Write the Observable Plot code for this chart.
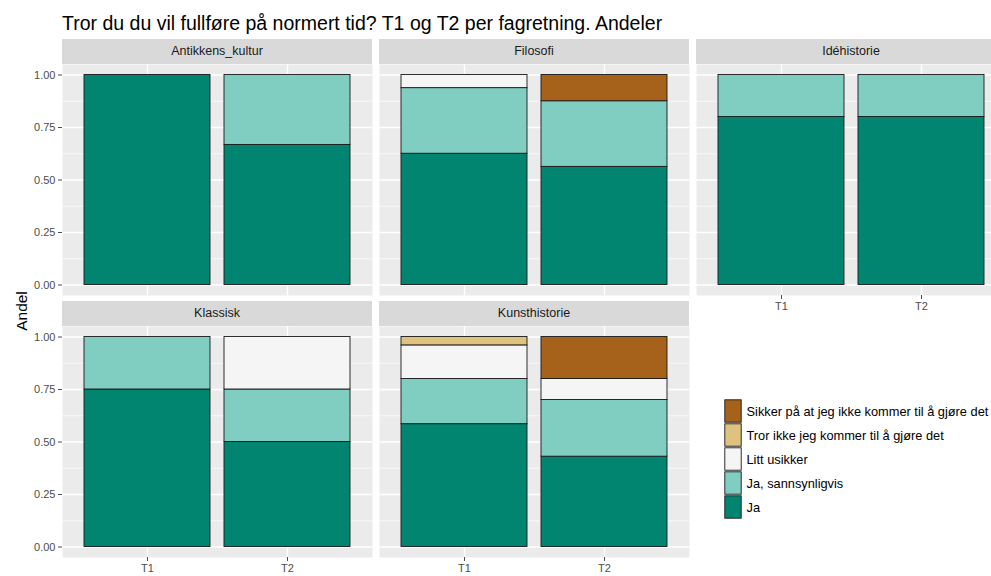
<!DOCTYPE html>
<html><head><meta charset="utf-8">
<script src="https://cdn.jsdelivr.net/npm/d3@7"></script>
<script src="https://cdn.jsdelivr.net/npm/@observablehq/plot@0.6"></script>
<style>
html,body{margin:0;padding:0;background:#fff;overflow:hidden;}
#chart{position:relative;width:991px;height:576px;overflow:hidden;font-family:"Liberation Sans",Arial,sans-serif;}
.abs{position:absolute;white-space:nowrap;}
.strip{background:#d9d9d9;color:#1a1a1a;font-size:12.5px;text-align:center;line-height:25px;height:25px;}
</style></head><body><div id="chart"></div>
<script>
// ---- data ----
const title = "Tror du du vil fullføre på normert tid? T1 og T2 per fagretning. Andeler";
const yTitle = "Andel";
const panels = ["Antikkens_kultur", "Filosofi", "Idéhistorie", "Klassisk", "Kunsthistorie"];
const times = ["T1", "T2"];
const cats = ["Ja", "Ja, sannsynligvis", "Litt usikker", "Tror ikke jeg kommer til å gjøre det", "Sikker på at jeg ikke kommer til å gjøre det"];
const catColors = ["#018571", "#80cdc1", "#f5f5f5", "#dfc27d", "#a6611a"];
// values per panel × time: [Ant T1, Ant T2, Fil T1, Fil T2, Idé T1, Idé T2, Kla T1, Kla T2, Kun T1, Kun T2]
const ja          = [1.0, 0.667, 0.625, 0.5625, 0.8, 0.8, 0.75, 0.5, 0.585, 0.43];
const jaSann      = [0.0, 0.333, 0.3125, 0.3125, 0.2, 0.2, 0.25, 0.25, 0.215, 0.27];
const littUsikker = [0.0, 0.0, 0.0625, 0.0, 0.0, 0.0, 0.0, 0.25, 0.16, 0.10];
const trorIkke    = [0.0, 0.0, 0.0, 0.0, 0.0, 0.0, 0.0, 0.0, 0.04, 0.0];
const sikker      = [0.0, 0.0, 0.0, 0.125, 0.0, 0.0, 0.0, 0.0, 0.0, 0.20];
const yTicks = [0, 0.25, 0.5, 0.75, 1];
const yMinor = [0.125, 0.375, 0.625, 0.875];

const series = [ja, jaSann, littUsikker, trorIkke, sikker];
const rows = [];
panels.forEach((p, pi) => times.forEach((t, ti) => cats.forEach((c, ci) => {
  const v = series[ci][pi * 2 + ti];
  if (v > 0) rows.push({panel: p, time: t, cat: c, value: v});
})));

// ---- layout ----
const chart = document.getElementById("chart");
const W = 310, H = 231, MB = 25, ML = 44;
const colX = [62, 379, 696], rowY = [64, 326];
const grid = [[0,0],[1,0],[2,0],[0,1],[1,1]];
const withXAxis = [false, false, true, true, true];
const font = '"Liberation Sans", Arial, sans-serif';

function addDiv(cls, text, css) {
  const d = document.createElement("div");
  d.className = cls; d.textContent = text;
  Object.assign(d.style, css);
  chart.appendChild(d);
  return d;
}

addDiv("abs", title, {left: "62px", top: "13px", fontSize: "19.5px", lineHeight: "20px", color: "#000"});
addDiv("abs", yTitle, {left: "22px", top: "311px", fontSize: "15.5px", lineHeight: "16px", color: "#000",
  transform: "translate(-50%,-50%) rotate(-90deg)"});

panels.forEach((p, i) => {
  const [c, r] = grid[i];
  const ml = c === 0 ? ML : 0;
  addDiv("abs strip", p, {left: colX[c] + "px", top: (rowY[r] - 25) + "px", width: W + "px"});
  const marks = [
    Plot.frame({fill: "#ebebeb", stroke: "none"}),
    Plot.ruleY(yMinor, {stroke: "#fff", strokeWidth: 0.7}),
    Plot.ruleY(yTicks, {stroke: "#fff", strokeWidth: 1.4}),
    Plot.ruleX(times, {x: d => d, stroke: "#fff", strokeWidth: 1.4}),
    Plot.barY(rows.filter(d => d.panel === p), {x: "time", y: "value", fill: "cat", stroke: "#1a1a1a", strokeWidth: 0.9})
  ];
  if (c === 0) marks.push(Plot.axisY(yTicks, {tickFormat: d3.format(".2f"), tickSize: 4, tickPadding: 3, label: null}));
  if (withXAxis[i]) marks.push(Plot.axisX({tickSize: 4, tickPadding: 3, label: null}));
  const svg = Plot.plot({
    width: W + ml, height: H + MB,
    marginTop: 0, marginRight: 0, marginBottom: MB, marginLeft: ml,
    x: {type: "band", domain: times, paddingInner: 0.1, paddingOuter: 0.15, axis: null},
    y: {domain: [-0.05, 1.05], axis: null},
    color: {domain: cats, range: catColors},
    style: {fontFamily: font, fontSize: "11px", color: "#4d4d4d", background: "transparent", overflow: "visible"},
    marks
  });
  svg.style.position = "absolute";
  svg.style.left = (colX[c] - ml) + "px";
  svg.style.top = rowY[r] + "px";
  chart.appendChild(svg);
});

// legend
const legendCats = cats.slice().reverse();
const leg = Plot.plot({
  width: 270, height: 122, margin: 0,
  x: {type: "band", domain: ["key"], range: [0, 22], axis: null},
  y: {type: "band", domain: legendCats, range: [0, 122], padding: 0, axis: null},
  color: {domain: cats, range: catColors},
  style: {fontFamily: font, fontSize: "12.8px", color: "#000", background: "transparent", overflow: "visible"},
  marks: [
    Plot.cell(legendCats, {x: () => "key", y: d => d, fill: d => d, stroke: "#1a1a1a", strokeWidth: 0.9, inset: 0.8}),
    Plot.text(legendCats, {x: () => "key", y: d => d, text: d => d, textAnchor: "start", dx: 13, fill: "#000"})
  ]
});
leg.style.position = "absolute";
leg.style.left = "722px";
leg.style.top = "398px";
chart.appendChild(leg);
</script></body></html>
